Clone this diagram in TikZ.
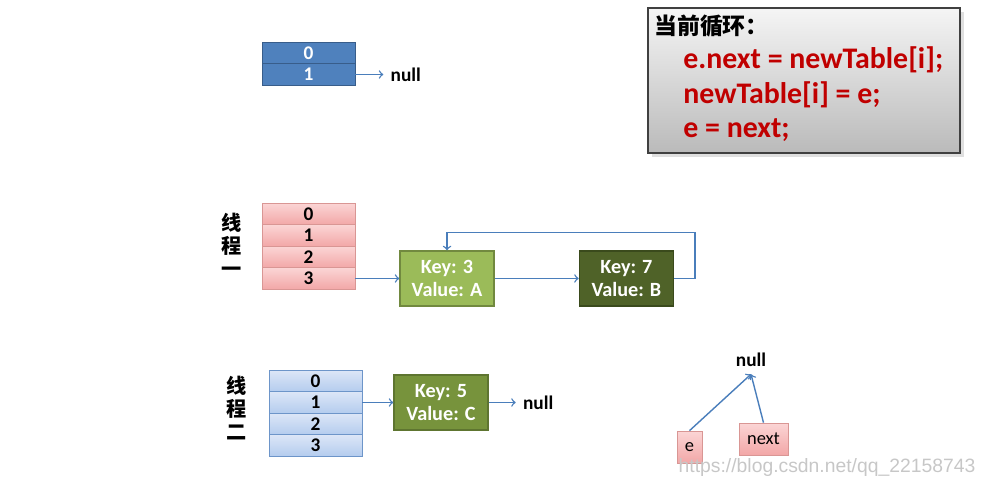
\documentclass[tikz,border=0pt]{standalone}
\usepackage{fontspec}
\setmainfont{Carlito}
\newfontfamily\cjk{Noto Sans CJK SC}
\newfontfamily\wmfont{Liberation Sans}
\usetikzlibrary{shapes.geometric, arrows, positioning, shadows}

\definecolor{tabblue}{HTML}{4F81BD}
\definecolor{tabblueline}{HTML}{385D8A}
\definecolor{pinkline}{HTML}{D99694}
\definecolor{pinktop}{HTML}{FBD5D5}
\definecolor{pinkbot}{HTML}{F2A7A7}
\definecolor{ltbluetop}{HTML}{DCE6F7}
\definecolor{ltbluebot}{HTML}{B4CCEE}
\definecolor{ltblueline}{HTML}{6D95C9}
\definecolor{greenA}{HTML}{9BBB59}
\definecolor{greenAline}{HTML}{71893F}
\definecolor{greenB}{HTML}{4F6228}
\definecolor{greenBline}{HTML}{3A4A1C}
\definecolor{greenC}{HTML}{77933C}
\definecolor{greenCline}{HTML}{5E7530}
\definecolor{arrowblue}{HTML}{4A7EBB}
\definecolor{codered}{HTML}{C00000}

\begin{document}
\begin{tikzpicture}[x=0.02cm, y=-0.02cm, node distance=0.43cm]
    \tikzstyle{cell}     = [rectangle, minimum width=1.86cm, minimum height=0.43cm, inner sep=0pt, text centered, font=\fontsize{11}{12}\selectfont\bfseries]
    \tikzstyle{topcell}  = [cell, draw=tabblueline, fill=tabblue, text=white]
    \tikzstyle{pinkcell} = [cell, draw=pinkline, top color=pinktop, bottom color=pinkbot]
    \tikzstyle{bluecell} = [cell, draw=ltblueline, top color=ltbluetop, bottom color=ltbluebot]
    \tikzstyle{entry}    = [rectangle, minimum width=1.88cm, minimum height=1.1cm, align=center, text=white, line width=0.8pt, font=\fontsize{11.5}{13.5}\selectfont\bfseries]
    \tikzstyle{nullnode} = [inner sep=4pt, font=\fontsize{11}{12}\selectfont\bfseries]
    \tikzstyle{thread}   = [align=center, font=\cjk\fontsize{11.5}{13}\selectfont\bfseries]
    \tikzstyle{pointer}  = [rectangle, draw=pinkline, top color=pinktop, bottom color=pinkbot, minimum height=0.64cm, inner sep=1pt, font=\fontsize{10.5}{12}\selectfont]
    \tikzstyle{codeline} = [anchor=west, inner sep=0pt, text=codered, font=\fontsize{17}{19}\selectfont\bfseries]
    \tikzstyle{arrow}    = [->, >=to, draw=arrowblue, line width=0.8pt]

    \useasboundingbox (0,0) rectangle (983,486);

    % Old table
    \node [topcell] (t0) at (308.5,53) {0};
    \node [topcell, below of=t0] (t1) {1};
    \node [nullnode, right=0.56cm of t1] (tnull) {null};

    % Current loop
    \node [rectangle, minimum width=6.24cm, minimum height=2.9cm, draw=black!75, line width=1pt, top color=black!4, bottom color=black!27, drop shadow={opacity=0.25}] (codebox) at (804,80.5) {};
    \node [anchor=west, inner sep=0pt, font=\cjk\fontsize{13}{14}\selectfont\bfseries] (head) at (654,26) {当前循环：};
    \node [codeline] (line1) at (683,60) {e.next = newTable[i];};
    \node [codeline] (line2) at (683,95) {newTable[i] = e;};
    \node [codeline] (line3) at (683,130) {e = next;};

    % Thread one
    \node [thread] (th1) at (232,245) {线\\程\\一};
    \node [pinkcell] (p0) at (308.5,214) {0};
    \node [pinkcell, below of=p0] (p1) {1};
    \node [pinkcell, below of=p1] (p2) {2};
    \node [pinkcell, below of=p2] (p3) {3};
    \node [entry, draw=greenAline, fill=greenA, right=0.88cm of p3] (ka) {Key: 3\\Value: A};
    \node [entry, draw=greenBline, fill=greenB, right=1.68cm of ka] (kb) {Key: 7\\Value: B};

    % Thread two
    \node [thread] (th2) at (237,408) {线\\程\\二};
    \node [bluecell] (l0) at (315.5,381) {0};
    \node [bluecell, below of=l0] (l1) {1};
    \node [bluecell, below of=l1] (l2) {2};
    \node [bluecell, below of=l2] (l3) {3};
    \node [entry, draw=greenCline, fill=greenC, right=0.62cm of l1] (kc) {Key: 5\\Value: C};
    \node [nullnode, right=0.54cm of kc] (cnull) {null};

    % Pointers
    \node [nullnode] (pnull) at (751,360) {null};
    \node [pointer, minimum width=0.5cm] (pe) at (689.5,447) {e};
    \node [pointer, minimum width=0.98cm] (pnext) at (763.5,439) {next};

    % Watermark
    \node [text=black!22, font=\wmfont\fontsize{11}{13}\selectfont] (mark) at (827,467) {https://blog.csdn.net/qq\_22158743};

    % Arrows
    \draw [arrow] (t1)    -- (tnull);
    \draw [arrow] (p3)    -- (ka);
    \draw [arrow] (ka)    -- (kb);
    \draw [arrow] (kb.east) -- ++(21,0) -- ++(0,-46) -| (ka.north);
    \draw [arrow] (l1)    -- (kc);
    \draw [arrow] (kc)    -- (cnull);
    \draw [arrow] (pe.north)    -- (pnull.south);
    \draw [arrow] (pnext.north) -- (pnull.south);

\end{tikzpicture}
\end{document}
